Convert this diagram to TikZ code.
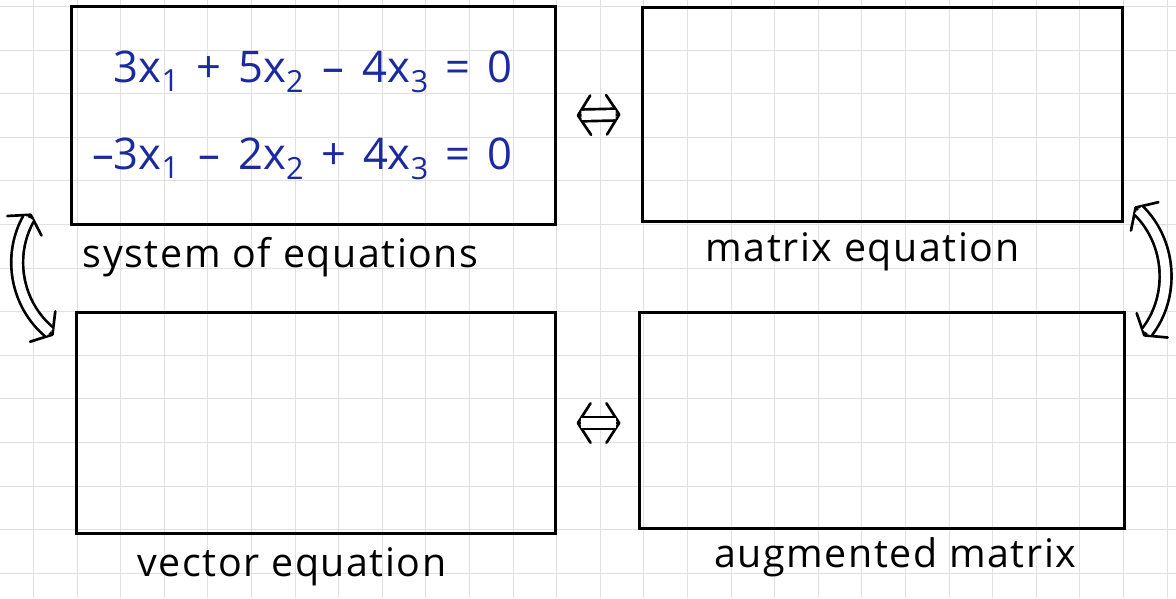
\documentclass[tikz,border=0pt]{standalone}
\usepackage{fontspec}
\setmainfont{Open Sans}
\newfontfamily\mano[LetterSpace=4]{Open Sans}
\usepackage{xcolor}
\usetikzlibrary{arrows.meta, positioning, calc}
\definecolor{tinta}{HTML}{1B2A9E}
\definecolor{rejilla}{HTML}{E0E0E0}
\tikzset{
  every picture/.style={x=0.025cm, y=0.025cm},
  panel/.style={draw=black, line width=2.1pt, inner sep=0pt},
  rotulo/.style={font=\mano\fontsize{28}{34}\selectfont, inner sep=0pt},
  ecuacion/.style={text=tinta, font=\fontsize{31}{36}\selectfont, inner sep=0pt},
  equiv/.style={line width=1.9pt, {Straight Barb[round, length=9pt, width=28pt]}-{Straight Barb[round, length=9pt, width=28pt]},
    postaction={draw, -, double=white, line width=1.9pt, double distance=6.5pt, shorten <=3.5pt, shorten >=3.5pt}},
  cuadro/.style={rejilla, line width=0.7pt},
}

\begin{document}
\begin{tikzpicture}
  \useasboundingbox (0,0) rectangle (1176,-598);
  \fill[white] (0,0) rectangle (1176,-598);
  % hoja cuadriculada
  \foreach \i in {0,...,26} {\draw[cuadro] (33.5+43.6*\i,0) -- ++(0,-598);}
  \foreach \j in {0,...,13} {\draw[cuadro] (0,-6.5-43.6*\j) -- ++(1176,0);}
  % las cuatro formas
  \node[panel, minimum width=12.08cm, minimum height=5.43cm] (sys) at (313.5,-115.5) {};
  \node[panel, minimum width=11.98cm, minimum height=5.33cm] (mat) at (882.5,-114.5) {};
  \node[panel, minimum width=11.95cm, minimum height=5.5cm] (vec) at (316,-423) {};
  \node[panel, minimum width=12.1cm, minimum height=5.38cm] (aug) at (882,-420.5) {};
  \node[ecuacion, xshift=-0.28cm] (eqs) at (sys) {%
    \setlength{\tabcolsep}{6pt}%
    \begin{tabular}{@{}rcrcrcl@{}}
      3x\textsubscript{1} & + & 5x\textsubscript{2} & -- & 4x\textsubscript{3} & = & 0\\[26pt]
      --3x\textsubscript{1} & -- & 2x\textsubscript{2} & + & 4x\textsubscript{3} & = & 0
    \end{tabular}};
  \node[rotulo, below=0.28cm of sys, xshift=-0.82cm] (sysl) {system of equations};
  \node[rotulo, below=0.24cm of mat, xshift=-0.5cm] (matl) {matrix equation};
  \node[rotulo, below=0.31cm of vec, xshift=-0.6cm] (vecl) {vector equation};
  \node[rotulo, below=0.19cm of aug, xshift=0.33cm] (augl) {augmented matrix};
  % equivalencias
  \draw[equiv] ([xshift=0.5cm]sys.east) -- ([xshift=-0.52cm]mat.west);
  \draw[equiv] ([xshift=0.5cm]vec.east) -- ([xshift=-0.45cm]vec.east -| aug.west);
  \draw[equiv] ([shift={(-39,12)}]sys.south west) to[bend right=40] ([shift={(-22,-24)}]vec.north west);
  \draw[equiv] ([shift={(11,16)}]mat.south east) to[bend left=42] ([shift={(18,-25)}]aug.north east);
\end{tikzpicture}
\end{document}
